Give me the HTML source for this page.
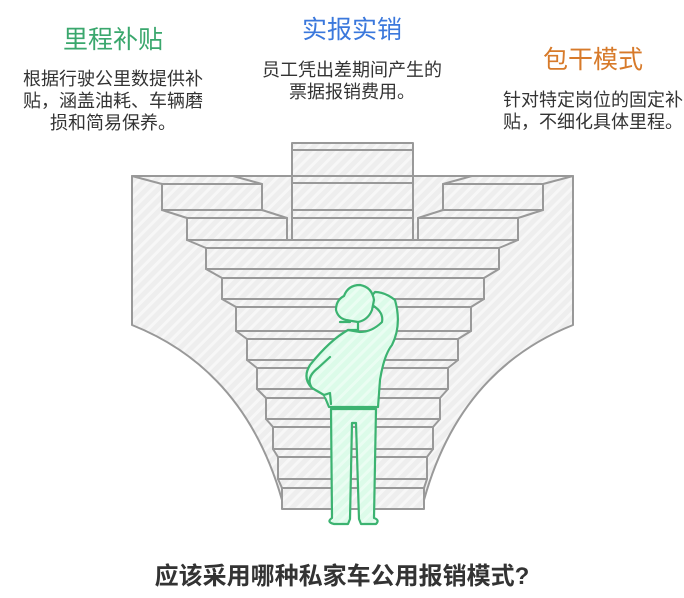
<!DOCTYPE html>
<html><head><meta charset="utf-8"><style>
body{margin:0;background:#fff;width:684px;height:598px;overflow:hidden;font-family:"Liberation Sans","Noto Sans CJK SC",sans-serif}
svg{position:absolute;left:0;top:0}
</style></head><body>
<svg width="684" height="598" viewBox="0 0 684 598">
<defs>
<pattern id="h" width="8" height="8" patternUnits="userSpaceOnUse" patternTransform="rotate(-45)">
<rect width="8" height="8" fill="#eeeeee"/><rect width="8" height="3" fill="#f7f7f7"/>
</pattern>
<pattern id="g" width="8" height="8" patternUnits="userSpaceOnUse" patternTransform="rotate(-45)">
<rect width="8" height="8" fill="#dcfbe9"/><rect width="8" height="3" fill="#eafdf2"/>
</pattern>
</defs>
<g stroke="#999" stroke-width="2" fill="url(#h)" stroke-linejoin="round">
<path d="M132,176 L573,176 L573,325 Q460,370 424,500 L282,500 Q245,370 132,325 Z"/>
<rect x="292" y="143" width="121" height="97"/>
<line x1="292" y1="150" x2="413" y2="150"/><line x1="292" y1="176" x2="413" y2="176"/><line x1="292" y1="183" x2="413" y2="183"/><line x1="292" y1="210" x2="413" y2="210"/><line x1="292" y1="218" x2="413" y2="218"/>
<path d="M132,176 L233,176 L262,184 L162,184 Z"/><rect x="162" y="184" width="100" height="26"/>
<path d="M162,210 L262,210 L287,218 L187,218 Z"/><rect x="187" y="218" width="100" height="22"/>
<path d="M573,176 L472,176 L443,184 L543,184 Z"/><rect x="443" y="184" width="100" height="26"/>
<path d="M543,210 L443,210 L418,218 L518,218 Z"/><rect x="418" y="218" width="100" height="22"/>
<path d="M187,240 L518,240 L499,248 L206,248 Z"/><rect x="206" y="248" width="293" height="21"/>
<path d="M206,269 L499,269 L484,278 L222,278 Z"/><rect x="222" y="278" width="262" height="21"/>
<path d="M222,299 L484,299 L471,307 L236,307 Z"/><rect x="236" y="307" width="235" height="24"/>
<path d="M236,331 L471,331 L458,339 L247,339 Z"/><rect x="247" y="339" width="211" height="21"/>
<path d="M247,360 L458,360 L448,368 L257,368 Z"/><rect x="257" y="368" width="191" height="21"/>
<path d="M257,389 L448,389 L440,398 L266,398 Z"/><rect x="266" y="398" width="174" height="21"/>
<path d="M266,419 L440,419 L433,427 L273,427 Z"/><rect x="273" y="427" width="160" height="22"/>
<path d="M273,449 L433,449 L427,457 L278,457 Z"/><rect x="278" y="457" width="149" height="22"/>
<path d="M278,479 L427,479 L424,488 L282,488 Z"/><rect x="282" y="488" width="142" height="21"/>
</g>
<g stroke="#3cb371" stroke-width="2.2" fill="url(#g)" stroke-linejoin="round" stroke-linecap="round">
<path d="M331,409 L332,518 Q326,522 334,524 L348,524 L350,519 L352,423 L356,423 L359,519 L361,524 L376,524 Q380,520 374,518 L376,409 Z"/>
<path d="M348,330 Q330,340 310,365 Q302,378 312,388 L324,395 L329,407 L378,407 L380,380 Q384,355 392,345 Q402,325 395,300 Q385,292 375,292 L368,300 L372,305 Q384,312 382,322 Q372,332 360,332 Z"/>
<path d="M312,388 Q305,378 318,368 L330,357"/>
<path d="M324,395 L330,393 L331,404"/>
<path d="M348,330 L358,330 L358,322"/>
<path d="M340,322 L350,322 Q345,316 346,310"/>
<path d="M344,296 Q336,300 336,310 Q338,318 346,320 L358,322 Q368,320 372,310 L374,300 Q372,287 360,285 Q348,285 344,296 Z"/>
</g>
</svg>
<div style="position:absolute;left:0;top:0;width:684px;height:598px;font-size:18px;color:#333;line-height:22px">
<div style="position:absolute;left:0px;width:226px;top:23px;text-align:center;color:#3aa76d;font-size:25px;line-height:34px">里程补贴</div>
<div style="position:absolute;left:0px;width:226px;top:68px;text-align:center">根据行驶公里数提供补<br>贴，涵盖油耗、车辆磨<br>损和简易保养。</div>
<div style="position:absolute;left:239px;width:226px;top:13px;text-align:center;color:#3b78dc;font-size:25px;line-height:34px">实报实销</div>
<div style="position:absolute;left:239px;width:226px;top:59px;text-align:center">员工凭出差期间产生的<br>票据报销费用。</div>
<div style="position:absolute;left:480px;width:226px;top:43px;text-align:center;color:#d77a2a;font-size:25px;line-height:34px">包干模式</div>
<div style="position:absolute;left:480px;width:226px;top:89px;text-align:center">针对特定岗位的固定补<br>贴，不细化具体里程。</div>
<div style="position:absolute;left:0;width:684px;top:561px;text-align:center;font-size:24px;line-height:32px;font-weight:bold;color:#333">应该采用哪种私家车公用报销模式?</div>
</div>
</body></html>
